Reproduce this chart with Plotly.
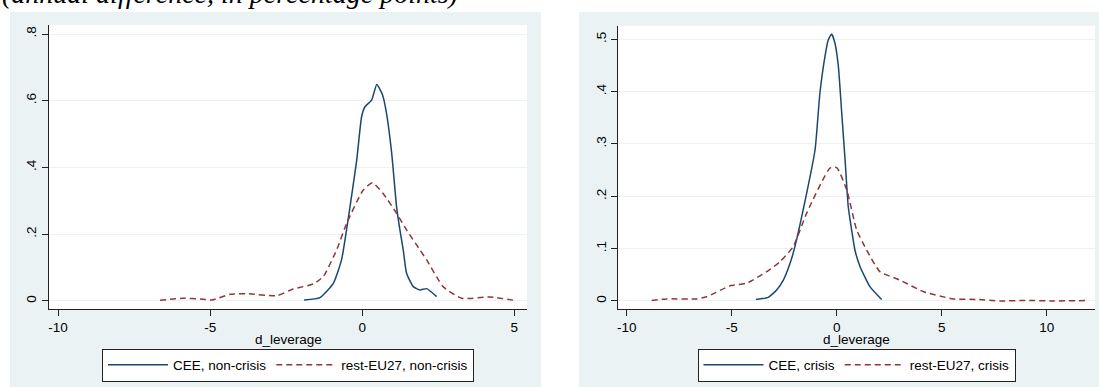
import plotly.graph_objects as go

W, H = 1099, 387

# Kernel density estimates of d_leverage, non-crisis years
x_cee_nc = [-1.91, -1.39, -0.95, -0.68, -0.40, -0.18, -0.02, 0.09, 0.31, 0.48, 0.67, 0.80,
            0.97, 1.13, 1.24, 1.35, 1.46, 1.68, 1.90, 2.12, 2.45]
y_cee_nc = [0.003, 0.010, 0.053, 0.123, 0.283, 0.422, 0.552, 0.582, 0.602, 0.649, 0.617, 0.562,
            0.443, 0.283, 0.213, 0.153, 0.083, 0.043, 0.033, 0.037, 0.013]
x_eu_nc = [-6.65, -5.88, -5.33, -4.95, -4.35, -3.80, -2.81, -2.27, -1.61, -1.28, -0.84, -0.51,
           0.03, 0.34, 0.69, 1.13, 1.46, 1.90, 2.12, 2.66, 3.27, 4.20, 5.07]
y_eu_nc = [0.002, 0.008, 0.006, 0.003, 0.020, 0.022, 0.016, 0.036, 0.051, 0.073, 0.153, 0.233,
           0.332, 0.354, 0.322, 0.263, 0.213, 0.153, 0.123, 0.043, 0.008, 0.012, 0.001]

# Kernel density estimates of d_leverage, crisis years
x_cee_c = [-3.84, -3.26, -2.86, -2.54, -2.22, -1.99, -1.43, -1.03, -0.80, -0.56, -0.40, -0.24,
           -0.08, 0.08, 0.24, 0.40, 0.55, 0.71, 0.87, 1.11, 1.59, 2.14]
y_cee_c = [0.003, 0.007, 0.021, 0.040, 0.072, 0.104, 0.206, 0.289, 0.397, 0.467, 0.499, 0.510,
           0.492, 0.448, 0.359, 0.269, 0.180, 0.136, 0.097, 0.066, 0.027, 0.003]
x_eu_c = [-8.81, -8.10, -6.67, -6.19, -5.08, -4.29, -3.33, -2.70, -2.07, -1.43, -0.32, 0.00,
          0.48, 0.95, 1.43, 2.06, 3.01, 4.12, 5.55, 6.67, 7.78, 9.05, 10.3, 11.98]
y_eu_c = [0.001, 0.004, 0.004, 0.008, 0.029, 0.034, 0.056, 0.075, 0.104, 0.168, 0.254, 0.255,
          0.212, 0.136, 0.097, 0.056, 0.040, 0.018, 0.004, 0.003, 0.000, 0.001, 0.000, 0.001]

left_yticks = [0, 0.2, 0.4, 0.6, 0.8]
left_ytext = ["0", ".2", ".4", ".6", ".8"]
left_xticks = [-10, -5, 0, 5]
left_xtext = ["-10", "-5", "0", "5"]
right_yticks = [0, 0.1, 0.2, 0.3, 0.4, 0.5]
right_ytext = ["0", ".1", ".2", ".3", ".4", ".5"]
right_xticks = [-10, -5, 0, 5, 10]
right_xtext = ["-10", "-5", "0", "5", "10"]

NAVY = "#1a476f"
MAROON = "#90353b"
PANEL = "#eaf2f3"
FONT = "Liberation Sans, Arial, sans-serif"


def px_x(p):
    return p / W


def px_y(p):
    return 1 - p / H


fig = go.Figure()

line_cfg = dict(mode="lines", line_shape="spline", hoverinfo="skip")
fig.add_trace(go.Scatter(x=x_cee_nc, y=y_cee_nc, name="CEE, non-crisis",
                         line=dict(color=NAVY, width=1.5, smoothing=0.5),
                         xaxis="x", yaxis="y", legend="legend", **line_cfg))
fig.add_trace(go.Scatter(x=x_eu_nc, y=y_eu_nc, name="rest-EU27, non-crisis",
                         line=dict(color=MAROON, width=1.5, dash="6px,4px", smoothing=0.5),
                         xaxis="x", yaxis="y", legend="legend", **line_cfg))
fig.add_trace(go.Scatter(x=x_cee_c, y=y_cee_c, name="CEE, crisis",
                         line=dict(color=NAVY, width=1.5, smoothing=0.5),
                         xaxis="x2", yaxis="y2", legend="legend2", **line_cfg))
fig.add_trace(go.Scatter(x=x_eu_c, y=y_eu_c, name="rest-EU27, crisis",
                         line=dict(color=MAROON, width=1.5, dash="6px,4px", smoothing=0.5),
                         xaxis="x2", yaxis="y2", legend="legend2", **line_cfg))

tick_font = dict(family=FONT, size=13.5, color="#000")
axis_common = dict(showline=True, linecolor="#222", linewidth=1.3, ticks="outside",
                   ticklen=6, tickcolor="#222", tickwidth=1.3, tickfont=tick_font,
                   zeroline=False, mirror=False)

yl = dict(axis_common, domain=[px_y(309), px_y(25)], range=[-0.024, 0.827],
          tickvals=left_yticks, ticktext=left_ytext, tickangle=-90,
          showgrid=True, gridcolor=PANEL, gridwidth=1.2, anchor="x")
yr = dict(axis_common, domain=[px_y(309), px_y(25.7)], range=[-0.0153, 0.526],
          tickvals=right_yticks, ticktext=right_ytext, tickangle=-90,
          showgrid=True, gridcolor=PANEL, gridwidth=1.2, anchor="x2")
xl = dict(axis_common, domain=[px_x(49), px_x(527)], range=[-10.3, 5.42],
          tickvals=left_xticks, ticktext=left_xtext, showgrid=False, anchor="y")
xr = dict(axis_common, domain=[px_x(618.3), px_x(1095)], range=[-10.4, 12.3],
          tickvals=right_xticks, ticktext=right_xtext, showgrid=False, anchor="y2")

legend_common = dict(orientation="h", xanchor="center", yanchor="middle",
                     y=px_y(365), bgcolor="white", bordercolor="#222", borderwidth=1,
                     font=tick_font, itemwidth=60, itemclick=False, traceorder="normal")

shapes = [
    # panel backgrounds
    dict(type="rect", xref="paper", yref="paper", x0=px_x(10), x1=px_x(541),
         y0=0, y1=px_y(12), fillcolor=PANEL, line_width=0, layer="below"),
    dict(type="rect", xref="paper", yref="paper", x0=px_x(579), x1=1,
         y0=0, y1=px_y(12), fillcolor=PANEL, line_width=0, layer="below"),
    # white plot regions
    dict(type="rect", xref="paper", yref="paper", x0=px_x(49), x1=px_x(527),
         y0=px_y(309), y1=px_y(25), fillcolor="white", line_width=0, layer="below"),
    dict(type="rect", xref="paper", yref="paper", x0=px_x(618.3), x1=px_x(1095),
         y0=px_y(309), y1=px_y(25.7), fillcolor="white", line_width=0, layer="below"),
]

annotations = [
    dict(text="<i>(annual difference, in percentage points)</i>",
         xref="paper", yref="paper", x=0, y=px_y(11),
         xanchor="left", yanchor="bottom", showarrow=False,
         font=dict(family="Liberation Serif, Times New Roman, serif", size=28, color="#000")),
    # x-axis titles
    dict(text="d_leverage", xref="paper", yref="paper", x=px_x(288), y=px_y(339.5),
         xanchor="center", yanchor="middle", showarrow=False, font=tick_font),
    dict(text="d_leverage", xref="paper", yref="paper", x=px_x(856.7), y=px_y(339.5),
         xanchor="center", yanchor="middle", showarrow=False, font=tick_font),
]

fig.update_layout(
    width=W, height=H, margin=dict(l=0, r=0, t=0, b=0),
    paper_bgcolor="white", plot_bgcolor="rgba(0,0,0,0)",
    xaxis=xl, yaxis=yl, xaxis2=xr, yaxis2=yr,
    legend=dict(legend_common, x=px_x(288)),
    legend2=dict(legend_common, x=px_x(856.5)),
    shapes=shapes,
    showlegend=True,
    annotations=annotations,
)

fig.write_html("out.html")
